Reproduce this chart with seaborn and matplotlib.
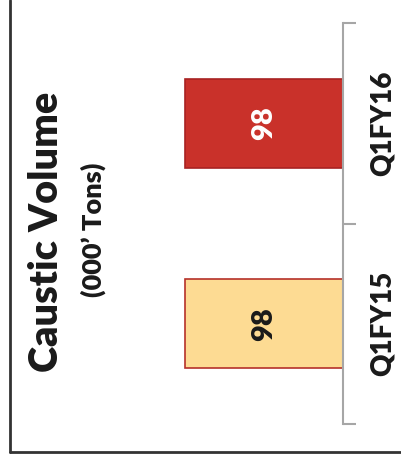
import matplotlib
matplotlib.use("Agg")
import matplotlib.pyplot as plt
import matplotlib.transforms as mtransforms
from matplotlib.lines import Line2D
import pandas as pd
import seaborn as sns

# Quarterly caustic soda volume, thousand tons
categories = ["Q1FY16", "Q1FY15"]
volumes = [98, 98]
bar_colors = ["#C9312A", "#FDDB93"]
edge_colors = ["#A82222", "#B5312A"]
value_colors = ["white", "#1a1a1a"]
title = "Caustic Volume"
subtitle = "(000’ Tons)"

sns.set_style("white")
plt.rcParams["font.family"] = ["Lato", "DejaVu Sans"]

W, H = 401, 462
fig = plt.figure(figsize=(W / 100, H / 100), dpi=100)
ax = fig.add_axes([60 / W, 1 - 424 / H, (343 - 60) / W, (424 - 23) / H])

df = pd.DataFrame({"period": categories, "volume": volumes})
sns.barplot(data=df, x="volume", y="period", hue="period", order=categories,
            hue_order=categories, palette=bar_colors, saturation=1,
            width=0.445, orient="h", legend=False, ax=ax)

for patch, ec in zip(ax.patches, edge_colors):
    patch.set_edgecolor(ec)
    patch.set_linewidth(1.2)

# bars grow leftwards from the axis line on the right
ax.set_xlim(175.5, 0)
ax.set_ylim(1.5, -0.5)

for side in ["left", "top", "bottom"]:
    ax.spines[side].set_visible(False)
ax.spines["right"].set_color("#A6A6A6")
ax.spines["right"].set_linewidth(1.5)
ax.set_xticks([])
ax.yaxis.tick_right()
ax.set_yticks([-0.5, 0.5, 1.5])
ax.set_yticklabels([])
ax.tick_params(axis="y", length=9, width=1.5, color="#A6A6A6", direction="out")
ax.set_xlabel("")
ax.set_ylabel("")

# value labels inside the bars
for i, (v, c) in enumerate(zip(volumes, value_colors)):
    ax.text(v / 2, i, f"{v}", rotation=90, ha="center", va="center",
            fontsize=21, fontweight="heavy", color=c)

# category labels beyond the axis line
blend = mtransforms.blended_transform_factory(fig.transFigure, ax.transData)
for i, cat in enumerate(categories):
    ax.text(383 / W, i, cat, transform=blend, rotation=90, ha="center",
            va="center", fontsize=20, fontweight="heavy", color="#1a1a1a")

fig.text(47 / W, 1 - 232 / H, title, rotation=90, ha="center", va="center",
         fontsize=28.5, fontweight="heavy", color="#1a1a1a")
fig.text(93 / W, 1 - 230 / H, subtitle, rotation=90, ha="center", va="center",
         fontsize=19.5, fontweight="heavy", color="#1a1a1a")

# outer frame
fig.add_artist(Line2D([10 / W, 10 / W], [1 - 452 / H, 1.0], transform=fig.transFigure,
                      color="#333333", linewidth=2))
fig.add_artist(Line2D([10 / W, 1.0], [1 - 452 / H, 1 - 452 / H], transform=fig.transFigure,
                      color="#333333", linewidth=2))

fig.savefig("out.png", dpi=100)
